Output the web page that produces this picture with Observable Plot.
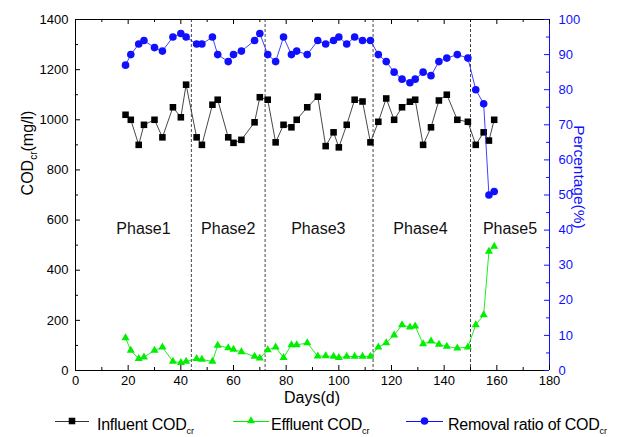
<!DOCTYPE html>
<html>
<head>
<meta charset="utf-8">
<script src="https://cdn.jsdelivr.net/npm/d3@7"></script>
<script src="https://cdn.jsdelivr.net/npm/@observablehq/plot@0.6"></script>
<style>
  body { margin: 0; background: #fff; font-family: "Liberation Sans", Arial, sans-serif; }
  #chart svg { display: block; }
</style>
</head>
<body>
<div id="chart"></div>
<script>
// ---- data ----
const days = [19,21,24,26,30,33,37,40,42,46,48,52,54,58,60,63,68,70,73,76,79,82,84,88,92,95,98,100,103,106,109,112,115,118,121,124,127,129,132,135,138,141,145,149,152,155,157,159];
const influent = [1020,1000,900,980,1000,930,1050,1010,1140,930,900,1060,1080,930,908,920,990,1090,1080,910,980,970,1000,1050,1092,895,950,890,980,1080,1073,910,992,1085,1000,1050,1072,1080,900,970,1077,1100,1000,992,900,950,917,1000];
const effluent = [130,80,47,53,80,93,36,31,36,47,44,36,100,90,84,74,56,49,82,93,51,102,102,110,57,58,56,51,56,56,56,56,93,110,141,182,173,177,106,117,104,96,89,93,182,222,475,495];
const removal = [87,90,93,94,92,91,95,96,95,93,93,95,90,88,90,91,94,96,90,88,95,90,91,90,94,93,94,95,93,95,94,94,90,88,85,83,82,83,85,84,88,89,90,89,80,76,50,51];

const phaseBoundaries = [44, 72, 113, 150];
const phaseNames = ["Phase1", "Phase2", "Phase3", "Phase4", "Phase5"];
const phaseCenters = [25.8, 58, 92.2, 131, 165];
const phaseLabelLevel = 566;

const xTicks = [0,20,40,60,80,100,120,140,160,180];
const xMinor = [10,30,50,70,90,110,130,150,170];
const leftTicks = [0,200,400,600,800,1000,1200,1400];
const leftMinor = [100,300,500,700,900,1100,1300];
const rightTicks = [0,10,20,30,40,50,60,70,80,90,100];
const rightMinor = [5,15,25,35,45,55,65,75,85,95];

const pctToCod = 14; // 100 % spans the same height as 1400 mg/l
const BLUE = "#1010ff";
const GREEN = "#00ee00";

const W = 620, H = 406, ML = 75, MR = 71, MT = 19, MB = 36;
const FW = W - ML - MR, FH = H - MT - MB;
const MAJOR = 5, MINOR = 3;

const rows = days.map((d, i) => ({day: d, inf: influent[i], eff: effluent[i], rem: removal[i] * pctToCod}));

const plot = Plot.plot({
  width: W,
  height: H,
  marginLeft: ML,
  marginRight: MR,
  marginTop: MT,
  marginBottom: MB,
  style: {fontFamily: "'Liberation Sans', Arial, sans-serif", fontSize: "13px", background: "white", color: "#000"},
  x: {domain: [0, 180]},
  y: {domain: [0, 1400]},
  marks: [
    Plot.ruleX(phaseBoundaries, {stroke: "#444", strokeDasharray: "3,2", strokeWidth: 1}),
    Plot.text(phaseNames, {x: (d, i) => phaseCenters[i], y: () => phaseLabelLevel, text: d => d, fontSize: 16, fill: "#111"}),
    // influent
    Plot.line(rows, {x: "day", y: "inf", stroke: "#333", strokeWidth: 0.9}),
    Plot.dot(rows, {x: "day", y: "inf", symbol: "square", r: 3.7, fill: "#000"}),
    // effluent
    Plot.line(rows, {x: "day", y: "eff", stroke: GREEN, strokeWidth: 0.9}),
    Plot.dot(rows, {x: "day", y: "eff", symbol: "triangle", r: 3.0, fill: GREEN}),
    // removal ratio
    Plot.line(rows, {x: "day", y: "rem", stroke: BLUE, strokeWidth: 0.8}),
    Plot.dot(rows, {x: "day", y: "rem", symbol: "circle", r: 3.8, fill: BLUE}),
    // frame
    Plot.ruleY([0], {stroke: "#000"}),
    Plot.ruleY([1400], {stroke: "#000"}),
    Plot.ruleX([0], {stroke: "#000"}),
    Plot.ruleX([180], {stroke: BLUE}),
    // inward ticks
    Plot.tickX(xTicks, {x: d => d, insetTop: FH - MAJOR, stroke: "#000"}),
    Plot.tickX(xMinor, {x: d => d, insetTop: FH - MINOR, stroke: "#000"}),
    Plot.tickX(xTicks, {x: d => d, insetBottom: FH - MAJOR, stroke: "#000"}),
    Plot.tickX(xMinor, {x: d => d, insetBottom: FH - MINOR, stroke: "#000"}),
    Plot.tickY(leftTicks, {y: d => d, insetRight: FW - MAJOR, stroke: "#000"}),
    Plot.tickY(leftMinor, {y: d => d, insetRight: FW - MINOR, stroke: "#000"}),
    Plot.tickY(rightTicks, {y: d => d * pctToCod, insetLeft: FW - MAJOR, stroke: BLUE}),
    Plot.tickY(rightMinor, {y: d => d * pctToCod, insetLeft: FW - MINOR, stroke: BLUE}),
    // tick labels
    Plot.axisX({anchor: "bottom", ticks: xTicks, tickSize: 0, tickPadding: 5, tickFormat: d => String(d), label: null, fontSize: 13}),
    Plot.axisY({anchor: "left", ticks: leftTicks, tickSize: 0, tickPadding: 7, tickFormat: d => String(d), label: null, fontSize: 13}),
    Plot.axisY({anchor: "right", ticks: rightTicks.map(t => t * pctToCod), tickSize: 0, tickPadding: 9, tickFormat: d => String(Math.round(d / pctToCod)), label: null, fontSize: 13, color: BLUE})
  ]
});

const svg = d3.select(plot);
// axis titles
const lt = svg.append("text")
  .attr("transform", "translate(33,153) rotate(-90)")
  .attr("text-anchor", "middle")
  .attr("font-size", 16).attr("fill", "#000");
lt.append("tspan").text("COD");
lt.append("tspan").attr("font-size", 10).attr("dy", 4).text("cr");
lt.append("tspan").attr("dy", -4).text("(mg/l)");

svg.append("text")
  .attr("transform", "translate(574,177) rotate(90)")
  .attr("text-anchor", "middle")
  .attr("font-size", 15.5).attr("fill", BLUE)
  .text("Percentage(%)");

svg.append("text")
  .attr("x", 312).attr("y", 403)
  .attr("text-anchor", "middle")
  .attr("font-size", 16).attr("fill", "#000")
  .text("Days(d)");

document.getElementById("chart").append(plot);

// ---- legend below the chart ----
const legendItems = [
  {label: "Influent COD", symbol: d3.symbolSquare, size: Math.PI * 3.7 * 3.7, color: "#000", line: "#333", x0: 55, x1: 89, tx: 97},
  {label: "Effluent COD", symbol: d3.symbolTriangle, size: Math.PI * 3.0 * 3.0, color: GREEN, line: GREEN, x0: 233, x1: 269, tx: 271},
  {label: "Removal ratio of COD", symbol: d3.symbolCircle, size: Math.PI * 3.8 * 3.8, color: BLUE, line: BLUE, x0: 406, x1: 443, tx: 448}
];
const leg = d3.create("svg").attr("width", 620).attr("height", 31).style("display", "block")
  .attr("font-family", "'Liberation Sans', Arial, sans-serif");
for (const it of legendItems) {
  const g = leg.append("g");
  g.append("line").attr("x1", it.x0).attr("x2", it.x1).attr("y1", 15.5).attr("y2", 15.5)
    .attr("stroke", it.line).attr("stroke-width", 1);
  g.append("path").attr("d", d3.symbol(it.symbol, it.size)())
    .attr("transform", `translate(${(it.x0 + it.x1) / 2},15)`).attr("fill", it.color);
  const t = g.append("text").attr("x", it.tx).attr("y", 24).attr("font-size", 16)
    .attr("letter-spacing", -0.25).attr("fill", "#000");
  t.append("tspan").text(it.label);
  t.append("tspan").attr("font-size", 9).attr("dy", 4).attr("letter-spacing", 0).text("cr");
}
document.getElementById("chart").append(leg.node());
</script>
</body>
</html>
